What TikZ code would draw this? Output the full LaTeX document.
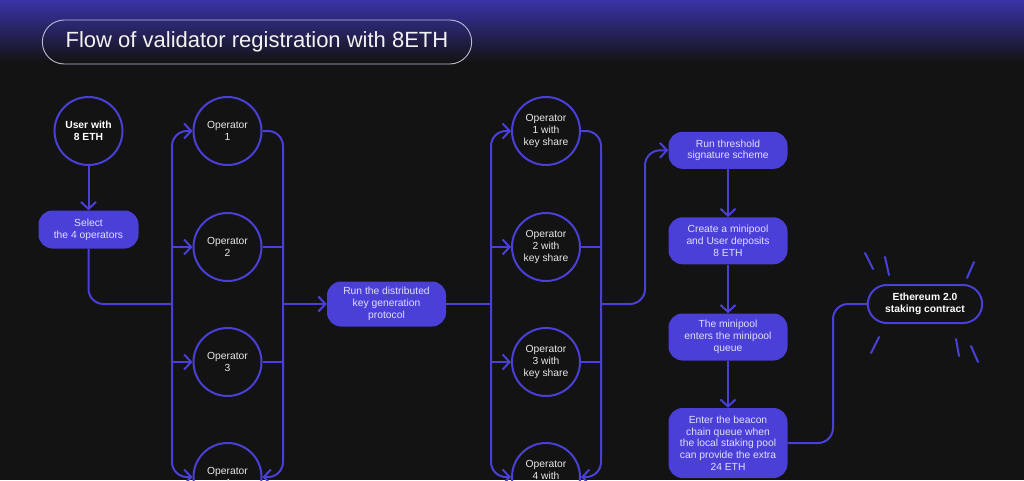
\documentclass[tikz,border=0pt]{standalone}
\usepackage{fontspec}
\setmainfont{Liberation Sans}
\usetikzlibrary{arrows.meta,shapes.misc,calc}
\definecolor{bg}{HTML}{131313}
\definecolor{flow}{HTML}{4A3FD6}
\definecolor{topc}{HTML}{3A33A8}
\definecolor{boxtext}{HTML}{E2E0FF}
\definecolor{circtext}{HTML}{E8E8E8}
\definecolor{pill}{HTML}{BDBAD8}
\begin{document}
\begin{tikzpicture}[x=1pt,y=-1pt,
  op/.style={circle, draw=flow, line width=2pt, minimum size=68pt, inner sep=0pt,
    text=circtext, font=\fontsize{10.3}{11.7}\selectfont, align=center},
  opbold/.style={op, font=\fontsize{10.3}{11.7}\selectfont\bfseries, text=white},
  procbox/.style={rectangle, rounded corners=14pt, fill=flow, text=boxtext,
    font=\fontsize{10.3}{11.7}\selectfont, align=center, minimum width=119pt, inner sep=2pt},
  endpill/.style={rounded rectangle, draw=flow, line width=2pt, minimum width=119pt,
    minimum height=37pt, text=white, font=\fontsize{10.3}{11.7}\selectfont\bfseries, align=center},
  link/.style={draw=flow, line width=2pt},
  arr/.style={link, -{Straight Barb[length=7pt,width=15pt,line width=2pt]}},
  ray/.style={draw=flow, line width=2pt, line cap=round},
]
\useasboundingbox (0,0) rectangle (1024,480);
\fill[bg] (0,0) rectangle (1024,480);
\shade[top color=topc, bottom color=bg] (0,0) rectangle (1024,62);

% title
\node[rounded rectangle, draw=pill, line width=0.9pt, minimum width=436pt, minimum height=44pt,
  text=white!95!black, font=\fontsize{22}{26}\selectfont] (title) at (257,42)
  {Flow of validator registration with 8ETH};

% column 1
\node[opbold] (user) at (88.5,131) {User with\\8 ETH};
\node[procbox, minimum width=100pt, minimum height=38pt] (select) at (88.5,229.5) {Select\\the 4 operators};
\node[op] (op1) at (227.5,131) {Operator\\1};
\node[op] (op2) at (227.5,247) {Operator\\2};
\node[op] (op3) at (227.5,362) {Operator\\3};
\node[op] (op4) at (227.5,477) {Operator\\4};

\node[procbox, minimum height=45pt] (dkg) at (386.5,304) {Run the distributed\\key generation\\protocol};

\node[op] (kop1) at (546,131) {Operator\\1 with\\key share};
\node[op] (kop2) at (546,247) {Operator\\2 with\\key share};
\node[op] (kop3) at (546,362) {Operator\\3 with\\key share};
\node[op] (kop4) at (546,477) {Operator\\4 with\\key share};

\node[procbox, minimum height=37pt] (thr) at (728,150.3) {Run threshold\\signature scheme};
\node[procbox, minimum height=47pt] (cm) at (728,240.8) {Create a minipool\\and User deposits\\8 ETH};
\node[procbox, minimum height=47pt] (mq) at (728,337) {The minipool\\enters the minipool\\queue};
\node[procbox, minimum height=70pt] (ebq) at (728,443) {Enter the beacon\\chain queue when\\the local staking pool\\can provide the extra\\24 ETH};

\node[endpill, minimum width=121pt, minimum height=38pt] (eth) at (925,304) {Ethereum 2.0\\staking contract};

% junction coordinates
\coordinate (lb) at (172,304);
\coordinate (rb) at (283,304);
\coordinate (lb2) at (491,304);
\coordinate (rb2) at (601,304);
\coordinate (j3) at (645,304);
\coordinate (j4) at (833,304);

% connectors, column 1
\draw[arr] (user.south) -- (select.north);
\draw[link, rounded corners=15pt] (select.south) |- (lb);
\draw[arr, rounded corners=15pt] (lb) |- (op1.west);
\draw[arr, rounded corners=15pt] (lb) |- (op4.west);
\draw[arr] (lb |- op2.west) -- (op2.west);
\draw[arr] (lb |- op3.west) -- (op3.west);
\draw[link, rounded corners=15pt] (op1.east) -| (rb);
\draw[arr, rounded corners=15pt] (rb) |- (op4.east);
\draw[link] (op2.east) -- (rb |- op2.east);
\draw[link] (op3.east) -- (rb |- op3.east);
\draw[arr] (rb) -- (dkg.west);

% column 2
\draw[link] (dkg.east) -- (lb2);
\draw[arr, rounded corners=15pt] (lb2) |- (kop1.west);
\draw[arr, rounded corners=15pt] (lb2) |- (kop4.west);
\draw[arr] (lb2 |- kop2.west) -- (kop2.west);
\draw[arr] (lb2 |- kop3.west) -- (kop3.west);
\draw[link, rounded corners=15pt] (kop1.east) -| (rb2);
\draw[arr, rounded corners=15pt] (rb2) |- (kop4.east);
\draw[link] (kop2.east) -- (rb2 |- kop2.east);
\draw[link] (kop3.east) -- (rb2 |- kop3.east);
\draw[arr, rounded corners=15pt] (rb2) -- (j3) |- (thr.west);

% column 3
\draw[arr] (thr.south) -- (cm.north);
\draw[arr] (cm.south) -- (mq.north);
\draw[arr] (mq.south) -- (ebq.north);
\draw[link, rounded corners=15pt] (ebq.east) -| (j4) -- (eth.west);

% rays around the staking contract
\draw[ray] (865,253) -- (873,269);
\draw[ray] (885,257) -- (889,275);
\draw[ray] (974,262) -- (967,278);
\draw[ray] (879,337) -- (871,353);
\draw[ray] (956,339) -- (959,356);
\draw[ray] (971,346) -- (978,362);
\end{tikzpicture}
\end{document}
